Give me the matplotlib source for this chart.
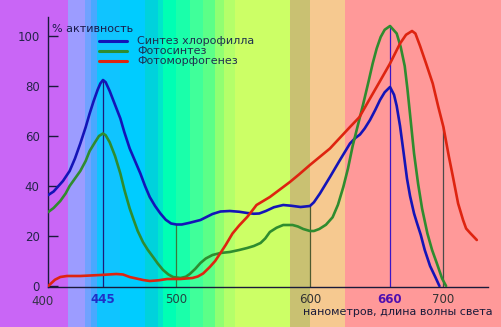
import matplotlib
matplotlib.use("Agg")
import matplotlib.pyplot as plt

# ---------------- data ----------------
blue_nm = [404, 408, 411, 415, 420, 424, 428, 432, 435, 438, 441, 443, 445, 447, 450, 454,
           458, 461, 465, 469, 473, 476.5, 480, 484, 488, 492, 496, 500, 504, 510, 518, 527,
           533, 540, 547, 553, 558, 562, 567, 573, 580, 586, 593, 600, 603, 607.5, 615, 622.5,
           630, 634, 637.5, 641, 645, 649, 652.5, 656, 660, 663, 665, 667.5, 670, 672.7, 675,
           678, 680, 683, 686, 690, 694, 697]
blue_val = [36.4, 37.8, 39.6, 42, 46, 51, 57, 63.5, 69, 74, 78.5, 81, 82.4, 81.5, 78, 72.5,
            67, 61.5, 55, 50, 45, 40, 35.6, 32, 29, 26.5, 25, 24.6, 24.6, 25.3, 26.4, 28.8,
            29.8, 30, 29.7, 29.2, 28.9, 29, 30, 31.5, 32.4, 32.1, 31.6, 32, 33.5, 37, 43.6, 50.4,
            57, 59.2, 60.6, 63, 66.4, 70.5, 74.4, 77.5, 79.6, 76.5, 72, 64, 54, 43, 36,
            29, 25.5, 20.5, 14.4, 8, 3.5, 0]

green_nm = [404, 408, 413, 417, 420, 424, 428, 432, 435, 439, 442, 445, 447, 450, 454, 458,
            461, 465, 468, 471, 475, 478.5, 482.5, 486, 490, 494, 497.5, 503, 507, 510, 514, 518,
            522, 527, 533, 540, 547, 553, 558, 563, 566.5, 570, 575, 580, 587, 591, 595, 600,
            603, 607, 612, 617, 621, 625, 628.5, 632, 636, 640, 644, 647, 650, 653, 656, 660,
            665, 668, 671, 673, 675.5, 678, 681, 684, 688, 691.5, 695, 699, 702]
green_val = [29.6, 31.2, 34, 37, 40, 43, 46, 50, 54, 57.5, 60, 61, 60.3, 57.5, 52, 45,
             38.5, 31, 26.4, 22, 17.5, 14.5, 11.6, 9, 6.4, 4.6, 3.6, 3.2, 3.7, 4.8, 6.8, 9.2,
             11, 12.4, 13.2, 13.6, 14.4, 15.2, 16, 17.2, 19, 21.6, 23.3, 24.4, 24.4, 23.8, 22.8, 22,
             22, 22.8, 24.5, 27.5, 32.5, 39.6, 47, 56, 64.5, 73, 82, 89, 95, 99.6, 102.5, 104,
             101, 95.6, 88, 79, 66, 53, 41, 31, 21, 14.4, 9.2, 3, 0]

red_nm = [404, 406, 409, 413, 418, 428, 443, 455, 460, 465, 470, 475, 480, 487, 493, 503,
          512, 516, 520, 525, 529, 533, 537, 542, 547, 553, 557, 560, 565, 570, 577, 585,
          592, 600, 615, 630, 637, 645, 652, 660, 667.5, 672, 676.5, 679, 682.5, 687, 692,
          696, 700, 704, 707, 711, 714.7, 717, 720, 725]
red_val = [0, 1, 2.5, 3.6, 4, 4, 4.4, 4.8, 4.6, 3.6, 3, 2.4, 2, 2.3, 2.8, 2.8,
           3.2, 3.8, 5, 7.6, 10, 13.2, 16.5, 21, 24.2, 27.6, 30.3, 32.4, 34, 35.6, 38.4, 41.6,
           44.7, 48.4, 55, 63.6, 67.5, 75, 81.5, 89, 97, 100.5, 102, 101, 96, 89, 81,
           72, 63.6, 52, 44, 33, 26.4, 23, 21.2, 18.4]

series_labels = ["Синтез хлорофилла", "Фотосинтез", "Фотоморфогенез"]
series_colors = ["#1414b8", "#2f8c2f", "#de2410"]

marker_nm = [445, 500, 600, 660, 700]
marker_top = [82.4, 24.6, 32, 104, 63.6]
marker_colors = ["#1c1c7a", "#3a7a3a", "#4f5a2f", "#3a14c8", "#4a4a4a"]
tick_label_colors = ["#2030c8", "#224444", "#333333", "#5010b0", "#333333"]
tick_label_weights = ["bold", "normal", "normal", "bold", "normal"]

yticks = [0, 20, 40, 60, 80, 100]

band_edges = [367.8, 418.8, 431.5, 436, 440.5, 458, 476.5, 486.2, 490, 500, 510.2, 520, 528.9,
              536, 543.9, 585.1, 600.1, 626.3, 743.1]
band_colors = ["#c966f6", "#9c9cff", "#70a2ff", "#4aa8ff", "#10c4ff", "#00ccff", "#00d2dc",
               "#00e6cc", "#00ffb4", "#1affaa", "#40ff9a", "#5cff88", "#90ff72",
               "#b4ff6a", "#ccff66", "#c9c172", "#f6c990", "#ff9999"]

# ---------------- figure ----------------
W, H, DPI = 501, 327, 100
fig = plt.figure(figsize=(W / DPI, H / DPI), dpi=DPI)

px_per_nm = 1.335
x_left_px, x_right_px = 48, 488
y_bot_px, y_top_px = 287, 17
xmin = 403.8
xmax = xmin + (x_right_px - x_left_px) / px_per_nm

# background spectrum axes covering the whole figure
bg = fig.add_axes([0, 0, 1, 1], zorder=0)
bg.set_xlim(xmin - x_left_px / px_per_nm, xmin + (W - x_left_px) / px_per_nm)
bg.set_ylim(0, 1)
for i, c in enumerate(band_colors):
    bg.axvspan(band_edges[i], band_edges[i + 1], color=c, lw=0)
bg.axis("off")

ax = fig.add_axes([x_left_px / W, (H - y_bot_px) / H,
                   (x_right_px - x_left_px) / W, (y_bot_px - y_top_px) / H], zorder=1)
ax.patch.set_alpha(0)
ax.set_xlim(xmin, xmax)
ymin = -0.4
ax.set_ylim(ymin, ymin + (y_bot_px - y_top_px) / 2.5)

for s in ["top", "right"]:
    ax.spines[s].set_visible(False)
for s in ["left", "bottom"]:
    ax.spines[s].set_color("#1a1a3a")
    ax.spines[s].set_linewidth(1.0)

# vertical marker lines
for nm, top, c in zip(marker_nm, marker_top, marker_colors):
    ax.plot([nm, nm], [0, top], color=c, lw=0.9, zorder=2)

# curves
for xs, ys, lab, c in zip([blue_nm, green_nm, red_nm], [blue_val, green_val, red_val],
                          series_labels, series_colors):
    ax.plot(xs, ys, color=c, lw=1.9, label=lab, zorder=3,
            solid_joinstyle="round", solid_capstyle="round")

# y ticks
ax.set_yticks(yticks)
ax.set_yticklabels([str(v) for v in yticks])
ax.tick_params(axis="y", direction="in", length=7, width=1, color="#1a1a3a",
               labelsize=8.5, labelcolor="#24244a", pad=6)

# x ticks
ax.set_xticks(marker_nm)
ax.set_xticklabels([str(v) for v in marker_nm])
ax.tick_params(axis="x", length=0, labelsize=8.5, pad=4)
for lbl, c, w in zip(ax.get_xticklabels(), tick_label_colors, tick_label_weights):
    lbl.set_color(c)
    lbl.set_fontweight(w)
ax.text(400, -0.03, "400", transform=ax.get_xaxis_transform(), ha="center", va="top",
        fontsize=8.5, color="#333344", clip_on=False)

ax.text(1.01, -0.074, "нанометров, длина волны света", transform=ax.transAxes,
        ha="right", va="top", fontsize=8, color="#1a1a3a")
ax.text(0.008, 0.955, "% активность", transform=ax.transAxes, ha="left", va="center",
        fontsize=8, color="#1a1a4a")

leg = ax.legend(loc="upper left", bbox_to_anchor=(0.115, 0.928), frameon=False,
                fontsize=8, handlelength=2.6, handletextpad=0.9, labelspacing=0.0,
                borderpad=0, borderaxespad=0)
for t in leg.get_texts():
    t.set_color("#1e3050")
for h in leg.get_lines():
    h.set_linewidth(2.2)

fig.savefig("out.png", dpi=DPI)
